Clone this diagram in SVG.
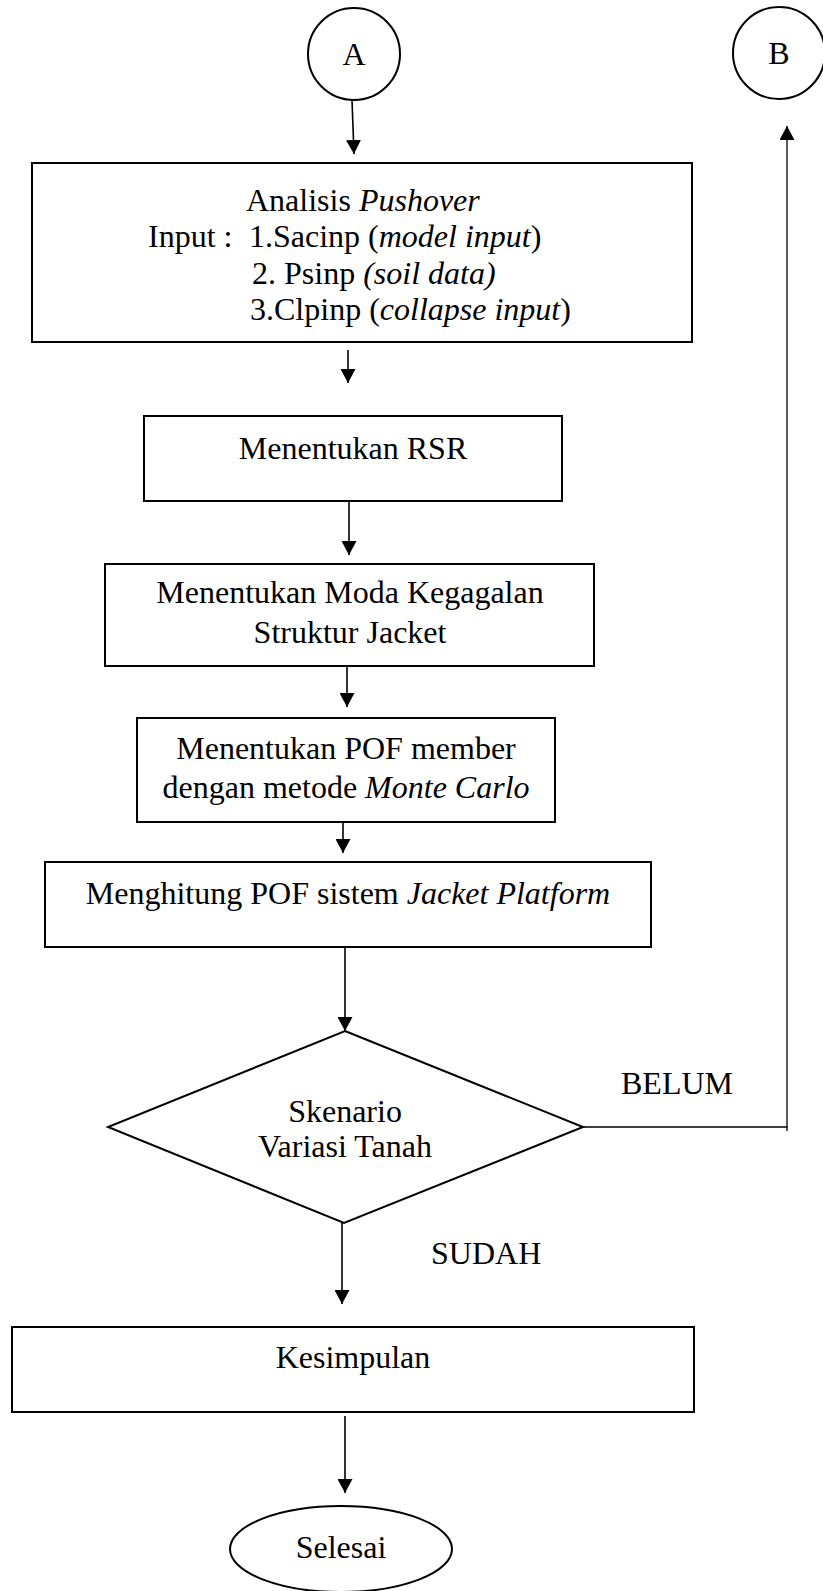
<svg xmlns="http://www.w3.org/2000/svg" width="823" height="1591" viewBox="0 0 823 1591">
<style>
.box{fill:#fff;stroke:#000;stroke-width:2}
.t{font-family:"Liberation Serif","Times New Roman",serif;font-size:32px;fill:#000}
.c{text-anchor:middle}
.i{font-style:italic}
.ln{fill:none;stroke:#000;stroke-width:1.6}
</style>
<defs>
<marker id="ah" markerUnits="userSpaceOnUse" markerWidth="15" markerHeight="15" refX="14" refY="7.5" orient="auto" viewBox="0 0 15 15">
<path d="M0,0 L14,7.5 L0,15 z" fill="#000"/>
</marker>
</defs>
<rect width="823" height="1591" fill="#fff"/>
<g id="connectors">
<line class="ln" x1="352" y1="100" x2="354" y2="154" marker-end="url(#ah)"/>
<line class="ln" x1="348" y1="350" x2="348" y2="383" marker-end="url(#ah)"/>
<line class="ln" x1="349" y1="501" x2="349" y2="555" marker-end="url(#ah)"/>
<line class="ln" x1="347" y1="666" x2="347" y2="707" marker-end="url(#ah)"/>
<line class="ln" x1="343" y1="822" x2="343" y2="853" marker-end="url(#ah)"/>
<line class="ln" x1="345" y1="947" x2="345" y2="1031" marker-end="url(#ah)"/>
<line class="ln" x1="342" y1="1223" x2="342" y2="1304" marker-end="url(#ah)"/>
<line class="ln" x1="345" y1="1416" x2="345" y2="1493" marker-end="url(#ah)"/>
<polyline class="ln" style="stroke-width:1.3" points="583,1127 787,1127 787,126" marker-end="url(#ah)"/>
<line class="ln" style="stroke-width:1.3" x1="787" y1="1127" x2="787" y2="1131"/>
<text class="t" x="621" y="1094">BELUM</text>
<text class="t" x="431" y="1264">SUDAH</text>
</g>
<g id="nodeA">
<circle cx="354" cy="54" r="46" fill="#fff" stroke="#000" stroke-width="2"/>
<text class="t c" x="354" y="65">A</text>
</g>
<g id="nodeB">
<circle cx="779" cy="53" r="46" fill="#fff" stroke="#000" stroke-width="2"/>
<text class="t c" x="779" y="64">B</text>
</g>
<g id="pushover">
<rect class="box" x="32" y="163" width="660" height="179"/>
<text class="t" x="246" y="211">Analisis <tspan class="i">Pushover</tspan></text>
<text class="t" x="148" y="247">Input :<tspan x="249">1.Sacinp (</tspan><tspan class="i">model input</tspan>)</text>
<text class="t" x="252" y="284">2. Psinp <tspan class="i">(soil data)</tspan></text>
<text class="t" x="250" y="320">3.Clpinp (<tspan class="i">collapse input</tspan>)</text>
</g>
<g id="rsr">
<rect class="box" x="144" y="416" width="418" height="85"/>
<text class="t c" x="353" y="459">Menentukan RSR</text>
</g>
<g id="moda">
<rect class="box" x="105" y="564" width="489" height="102"/>
<text class="t c" x="350" y="603">Menentukan Moda Kegagalan</text>
<text class="t c" x="350" y="643">Struktur Jacket</text>
</g>
<g id="pof">
<rect class="box" x="137" y="718" width="418" height="104"/>
<text class="t c" x="346" y="759">Menentukan POF member</text>
<text class="t c" x="346" y="798">dengan metode <tspan class="i">Monte Carlo</tspan></text>
</g>
<g id="sistem">
<rect class="box" x="45" y="862" width="606" height="85"/>
<text class="t c" x="348" y="904">Menghitung POF sistem <tspan class="i">Jacket Platform</tspan></text>
</g>
<g id="decision">
<polygon points="345,1031 583,1127 344,1223 108,1127" fill="#fff" stroke="#000" stroke-width="2"/>
<text class="t c" x="345" y="1122">Skenario</text>
<text class="t c" x="345" y="1157">Variasi Tanah</text>
</g>
<g id="kesimpulan">
<rect class="box" x="12" y="1327" width="682" height="85"/>
<text class="t c" x="353" y="1368">Kesimpulan</text>
</g>
<g id="selesai">
<ellipse cx="341" cy="1549" rx="111" ry="43" fill="#fff" stroke="#000" stroke-width="2"/>
<text class="t c" x="341" y="1558">Selesai</text>
</g>
</svg>
